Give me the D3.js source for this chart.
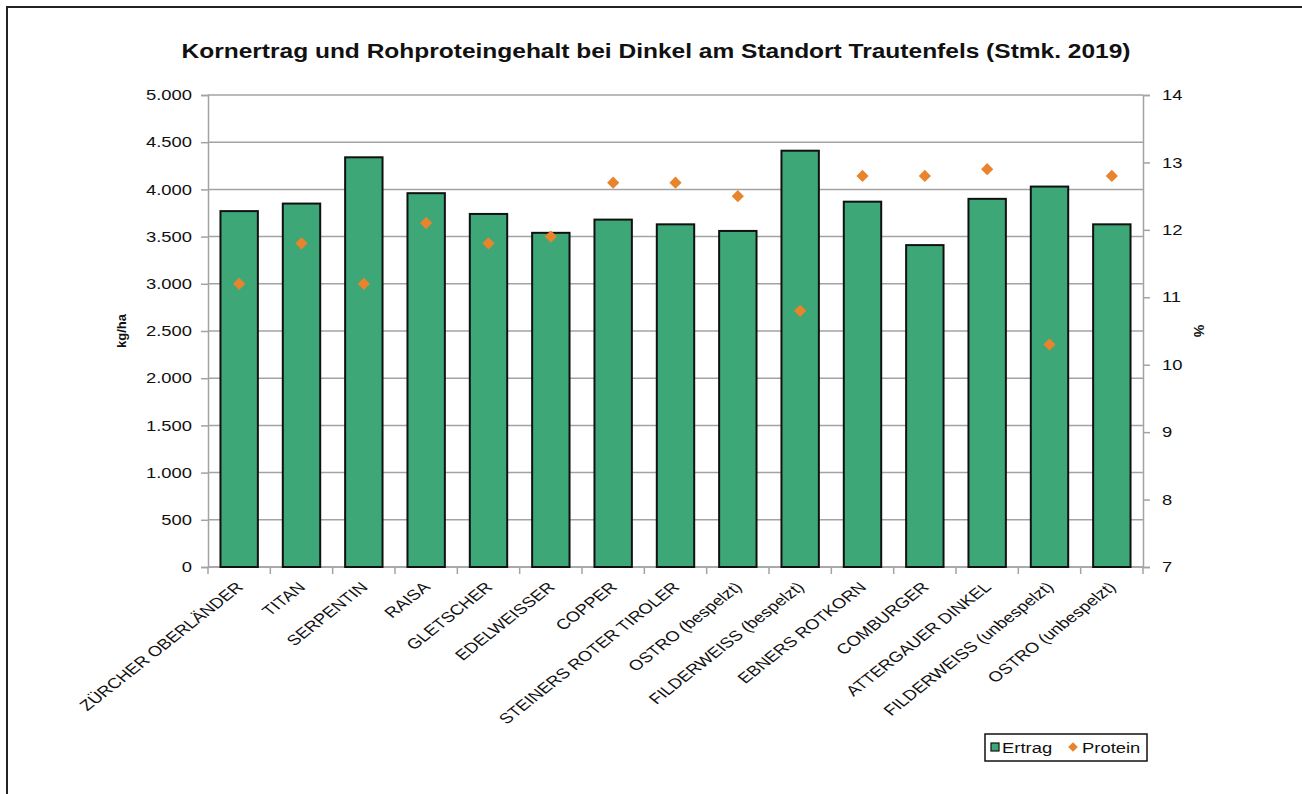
<!DOCTYPE html>
<html>
  <head>
    <meta charset="utf-8">
    <title>Kornertrag Dinkel</title>
    <style>
      body { margin: 0; background: #fff; }
      text { font-family: "Liberation Sans", Arial, sans-serif; fill: #111; }
    </style>
  </head>
  <body>
    <script src="https://d3js.org/d3.v7.min.js"></script>
    <svg id="chart" width="1302" height="794"></svg>
    <script>
      // data
      sorten = ["ZÜRCHER OBERLÄNDER", "TITAN", "SERPENTIN", "RAISA", "GLETSCHER", "EDELWEISSER",
                "COPPER", "STEINERS ROTER TIROLER", "OSTRO (bespelzt)", "FILDERWEISS (bespelzt)",
                "EBNERS ROTKORN", "COMBURGER", "ATTERGAUER DINKEL", "FILDERWEISS (unbespelzt)",
                "OSTRO (unbespelzt)"]
      ertrag = [3770, 3850, 4340, 3960, 3740, 3540, 3680, 3630, 3560, 4410, 3870, 3410, 3900, 4030, 3630]
      protein = [11.2, 11.8, 11.2, 12.1, 11.8, 11.9, 12.7, 12.7, 12.5, 10.8, 12.8, 12.8, 12.9, 10.3, 12.8]
      ertragTicks = d3.range(0, 5001, 500)
      proteinTicks = d3.range(7, 15, 1)

      // the original is a little stretched sideways, so text gets a horizontal scale
      sx = 1.27
      plotLeft = 208
      plotRight = 1143
      plotTop = 95
      plotBottom = 567
      green = "#3ea777"
      orange = "#e8842c"
      grid = "#a3a3a3"

      de = d3.formatLocale({decimal: ",", thousands: ".", grouping: [3], currency: ["", " €"]})

      let svg = d3.select('#chart')

      // outer frame
      svg.append('rect')
        .attr('x', 7).attr('y', 7)
        .attr('width', 1320).attr('height', 820)
        .attr('fill', 'none')
        .attr('stroke', '#222')
        .attr('stroke-width', 2)

      x = d3.scaleBand().domain(sorten).range([plotLeft, plotRight]).paddingInner(0.4).paddingOuter(0.2)
      y = d3.scaleLinear().domain([0, 5000]).range([plotBottom, plotTop])
      y2 = d3.scaleLinear().domain([7, 14]).range([plotBottom, plotTop])

      // gridlines
      svg.append('g')
        .selectAll('line')
        .data(ertragTicks)
        .join('line')
        .attr('x1', plotLeft).attr('x2', plotRight)
        .attr('y1', d => y(d)).attr('y2', d => y(d))
        .attr('stroke', grid)
        .attr('stroke-width', 1.5)

      // left axis
      let yAxis = svg.append('g')
        .attr('transform', `translate(${plotLeft},0)`)
        .call(d3.axisLeft(y).tickValues(ertragTicks).tickFormat(de.format(",")).tickSize(7))
      yAxis.select('.domain').attr('stroke', grid).attr('stroke-width', 1.5)
      yAxis.selectAll('.tick line').attr('stroke', grid).attr('stroke-width', 1.5)
      yAxis.selectAll('.tick text')
        .attr('x', -16 / sx)
        .attr('transform', `scale(${sx},1)`)
        .attr('font-size', 14.5).attr('font-family', '"Liberation Sans", Arial, sans-serif').attr('fill', '#111')

      // right axis
      let y2Axis = svg.append('g')
        .attr('transform', `translate(${plotRight},0)`)
        .call(d3.axisRight(y2).tickValues(proteinTicks).tickFormat(d3.format("d")).tickSize(7))
      y2Axis.select('.domain').attr('stroke', grid).attr('stroke-width', 1.5)
      y2Axis.selectAll('.tick line').attr('stroke', grid).attr('stroke-width', 1.5)
      y2Axis.selectAll('.tick text')
        .attr('x', 19 / sx)
        .attr('transform', `scale(${sx},1)`)
        .attr('font-size', 14.5).attr('font-family', '"Liberation Sans", Arial, sans-serif').attr('fill', '#111')

      // bottom axis with ticks between categories
      let step = x.step()
      let boundaries = d3.range(sorten.length + 1).map(i => plotLeft + i * step)
      svg.append('line')
        .attr('x1', plotLeft).attr('x2', plotRight)
        .attr('y1', plotBottom).attr('y2', plotBottom)
        .attr('stroke', grid).attr('stroke-width', 1.5)
      svg.append('g')
        .selectAll('line')
        .data(boundaries)
        .join('line')
        .attr('x1', d => d).attr('x2', d => d)
        .attr('y1', plotBottom).attr('y2', plotBottom + 7)
        .attr('stroke', grid).attr('stroke-width', 1.5)

      // bars
      svg.append('g')
        .selectAll('rect')
        .data(ertrag)
        .join('rect')
        .attr('x', (d, i) => x(sorten[i]))
        .attr('y', d => y(d))
        .attr('width', x.bandwidth())
        .attr('height', d => plotBottom - y(d))
        .attr('fill', green)
        .attr('stroke', '#111')
        .attr('stroke-width', 2)

      // protein diamonds
      let diamond = d3.symbol().type(d3.symbolDiamond2).size(95)
      svg.append('g')
        .selectAll('path')
        .data(protein)
        .join('path')
        .attr('d', diamond)
        .attr('transform', (d, i) => `translate(${x(sorten[i]) + x.bandwidth() / 2},${y2(d)})`)
        .attr('fill', orange)

      // category labels
      svg.append('g')
        .selectAll('text')
        .data(sorten)
        .join('text')
        .attr('transform', d => `translate(${x(d) + x.bandwidth() / 2 + 5},${plotBottom + 21}) scale(${sx},1) rotate(-45)`)
        .attr('text-anchor', 'end')
        .attr('font-size', 14.5)
        .text(d => d)

      // title
      svg.append('text')
        .attr('x', 656).attr('y', 58)
        .attr('text-anchor', 'middle')
        .attr('font-size', 20)
        .attr('font-weight', 'bold')
        .attr('textLength', 949)
        .attr('lengthAdjust', 'spacingAndGlyphs')
        .text("Kornertrag und Rohproteingehalt bei Dinkel am Standort Trautenfels (Stmk. 2019)")

      // axis titles
      svg.append('text')
        .attr('transform', `translate(126,${(plotTop + plotBottom) / 2}) rotate(-90)`)
        .attr('text-anchor', 'middle')
        .attr('font-size', 13)
        .attr('font-weight', 'bold')
        .text("kg/ha")
      svg.append('text')
        .attr('transform', `translate(1194,${(plotTop + plotBottom) / 2}) rotate(90)`)
        .attr('text-anchor', 'middle')
        .attr('font-size', 14)
        .attr('font-weight', 'bold')
        .text("%")

      // legend
      let lg = svg.append('g').attr('transform', 'translate(985,734)')
      lg.append('rect')
        .attr('width', 162).attr('height', 27)
        .attr('fill', '#fff').attr('stroke', '#111').attr('stroke-width', 1.5)
      lg.append('rect')
        .attr('x', 6).attr('y', 9).attr('width', 8).attr('height', 8)
        .attr('fill', green).attr('stroke', '#111').attr('stroke-width', 1.2)
      lg.append('text')
        .attr('transform', `translate(17,19) scale(${sx},1)`)
        .attr('font-size', 14.5)
        .text("Ertrag")
      lg.append('path')
        .attr('d', d3.symbol().type(d3.symbolDiamond2).size(60))
        .attr('transform', 'translate(88,13)')
        .attr('fill', orange)
      lg.append('text')
        .attr('transform', `translate(97,19) scale(${sx},1)`)
        .attr('font-size', 14.5)
        .text("Protein")
    </script>
  </body>
</html>
